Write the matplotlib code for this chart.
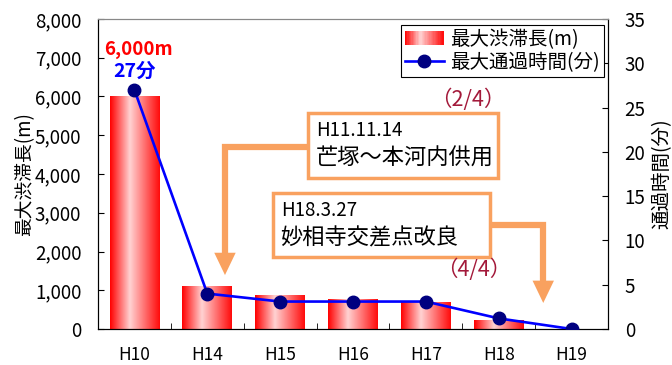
# 最大渋滞長と最大通過時間の推移グラフ

import numpy as np
import matplotlib.pyplot as plt
from matplotlib.colors import LinearSegmentedColormap
from matplotlib.legend_handler import HandlerBase
from matplotlib.patches import Rectangle, Polygon
from matplotlib.lines import Line2D
from matplotlib.ticker import FuncFormatter, MultipleLocator

plt.rcParams['font.family'] = ['Noto Sans CJK JP', 'DejaVu Sans']

years = ['H10', 'H14', 'H15', 'H16', 'H17', 'H18', 'H19']
jam_length = [6000, 1100, 870, 770, 690, 230, 0]      # 最大渋滞長 (m)
pass_time = [27, 4, 3.1, 3.1, 3.1, 1.2, 0]            # 最大通過時間 (分)

notes = [('H11.11.14', '芒塚～本河内供用', '（2/4）'),
         ('H18.3.27', '妙相寺交差点改良', '（4/4）')]

ORANGE = '#F9A15F'
DARK_RED = '#A3193A'

grad = LinearSegmentedColormap.from_list(
    'bar_grad', [(0.0, '#FF0000'), (0.4, '#FFD2D2'), (1.0, '#FF0A0A')])


class GradientHandler(HandlerBase):
    # legend swatch drawn as thin vertical strips
    def create_artists(self, legend, orig_handle, xdescent, ydescent,
                       width, height, fontsize, trans):
        n = 30
        arts = []
        for i in range(n):
            r = Rectangle((-xdescent + i * width / n, -ydescent), width / n * 1.05, height,
                          facecolor=grad((i + 0.5) / n), edgecolor='none',
                          transform=trans)
            arts.append(r)
        return arts


fig = plt.figure(figsize=(6.72, 3.65), dpi=100)
ax = fig.add_axes([0.1458, 0.0986, 0.7590, 0.8494])
ax2 = ax.twinx()

x = np.arange(len(years))
bars = ax.bar(x, jam_length, width=0.68, facecolor='none', edgecolor='none')
gimg = np.linspace(0, 1, 256).reshape(1, -1)
for b in bars:
    if b.get_height() <= 0:
        continue
    x0, y0 = b.get_x(), b.get_y()
    ax.imshow(gimg, cmap=grad, aspect='auto', interpolation='bilinear',
              extent=(x0, x0 + b.get_width(), y0, y0 + b.get_height()), zorder=2)

ax.set_xlim(-0.5, len(years) - 0.5)
ax.set_ylim(0, 8000)
ax.yaxis.set_major_locator(MultipleLocator(1000))
ax.yaxis.set_major_formatter(FuncFormatter(lambda v, p: f'{v:,.0f}'))
ax.set_xticks(x)
ax.set_xticklabels(years)
ax.set_xticks(x[:-1] + 0.5, minor=True)
ax.tick_params(axis='x', which='major', length=0, pad=12, labelsize=12.5)
ax.tick_params(axis='x', which='minor', direction='in', length=4)
ax.tick_params(axis='y', direction='in', length=4, labelsize=13.5, pad=12)
ax.set_ylabel('最大渋滞長(m)', fontsize=13.5, labelpad=0)

ax2.plot(x, pass_time, color='#0000FF', lw=1.9, marker='o', ms=9,
         markerfacecolor='#000080', markeredgecolor='#000080', zorder=3)
ax2.set_ylim(0, 35)
ax2.yaxis.set_major_locator(MultipleLocator(5))
ax2.tick_params(axis='y', direction='in', length=4, labelsize=13.5, pad=12)
ax2.set_ylabel('通過時間(分)', fontsize=14, labelpad=4)

for a in (ax, ax2):
    a.spines['top'].set_color('#888888')
    for s in ('left', 'right', 'bottom'):
        a.spines[s].set_color('black')

# value labels for H10
ax.annotate(f'{jam_length[0]:,}m', xy=(x[0], jam_length[0]), xytext=(3, 34),
            textcoords='offset points', ha='center', va='center',
            color='#FF0000', fontsize=13.5, fontweight='bold')
ax2.annotate(f'{pass_time[0]}分', xy=(x[0], pass_time[0]), xytext=(0, 13),
             textcoords='offset points', ha='center', va='center',
             color='#0000FF', fontsize=14, fontweight='bold')

# note boxes with bent arrows (axes fraction coords)
boxes = [(0.412, 0.487, 0.372, 0.210), (0.343, 0.232, 0.426, 0.207)]
paths = [[(0.412, 0.587), (0.249, 0.587), (0.249, 0.225)],
         [(0.769, 0.335), (0.873, 0.335), (0.873, 0.135)]]
tips = [(0.249, 0.174), (0.873, 0.084)]
tags = [(0.725, 0.739), (0.737, 0.190)]

for (d, t, tag), (bx, by, bw, bh), pth, tip, tg in zip(notes, boxes, paths, tips, tags):
    xs, ys = zip(*pth)
    ax2.add_line(Line2D(xs, ys, color=ORANGE, lw=4.5, transform=ax2.transAxes,
                        solid_joinstyle='miter', zorder=4))
    tx, ty = tip
    head = Polygon([(tx - 0.021, ty + 0.072), (tx + 0.021, ty + 0.072), (tx, ty)],
                   closed=True, facecolor=ORANGE, edgecolor='none',
                   transform=ax2.transAxes, zorder=4)
    ax2.add_patch(head)
    ax2.add_patch(Rectangle((bx, by), bw, bh, facecolor='white', edgecolor=ORANGE,
                            lw=2.5, transform=ax2.transAxes, zorder=5))
    ax2.text(bx + 0.016, by + bh * 0.73, d, transform=ax2.transAxes, fontsize=13.5,
             va='center', ha='left', zorder=6)
    ax2.text(bx + 0.014, by + bh * 0.30, t, transform=ax2.transAxes, fontsize=16,
             va='center', ha='left', zorder=6)
    ax2.text(tg[0], tg[1], tag, transform=ax2.transAxes, fontsize=15.5,
             color=DARK_RED, ha='center', va='center', zorder=6)

handles = [Rectangle((0, 0), 1, 1),
           Line2D([], [], color='#0000FF', lw=1.9, marker='o', ms=9,
                  markerfacecolor='#000080', markeredgecolor='#000080')]
labels = ['最大渋滞長(m)', '最大通過時間(分)']
leg = ax2.legend(handles, labels, loc='upper right', bbox_to_anchor=(0.992, 0.981),
                 borderaxespad=0, fontsize=14, fancybox=False, framealpha=1,
                 edgecolor='black', handlelength=2.0, labelspacing=0.1,
                 handletextpad=0.35, borderpad=0.2,
                 handler_map={Rectangle: GradientHandler()})
leg.get_frame().set_linewidth(0.8)
leg.set_zorder(7)

fig.savefig('out.png', dpi=100)
